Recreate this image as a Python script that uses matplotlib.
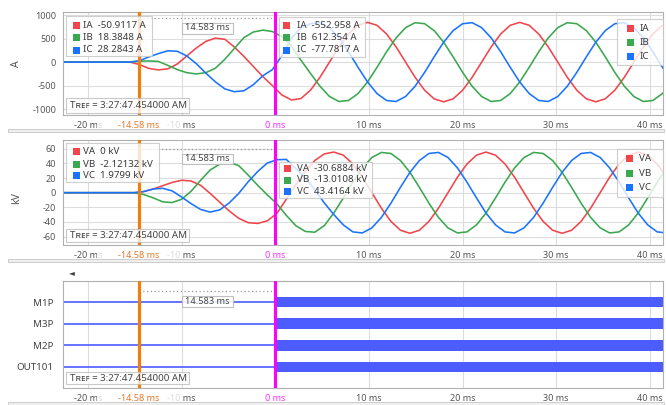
import numpy as np
import matplotlib
matplotlib.use('Agg')
import matplotlib.pyplot as plt
from matplotlib.patches import Rectangle
from matplotlib.transforms import blended_transform_factory as btf

plt.rcParams['font.family'] = ['Noto Sans', 'DejaVu Sans']

# ------------------------------------------------------------------ data
SAMPLE_MS = 16.25 / 16      # sample interval of the record (ms)
I_T0 = -23.666              # time of first current sample (ms)
V_T0 = -23.203              # time of first voltage sample (ms)

IA = [0, 0, 0, 0, 0, 0, 0, 0, 0,
      -50, -135, -165, -145, -40, 130, 300, 440, 510, 485, 320, 120, -95, -310, -500, -700, -805, -775,
      -598, -323, 0, 323, 598, 781,
      845, 781, 598, 323, 0, -323, -598, -781, -845, -781, -598, -323, 0, 323, 598, 781,
      845, 781, 598, 323, 0, -323, -598, -781, -845, -781, -598, -323, 0, 323, 598, 781,
      845]
IB = [0, 0, 0, 0, 0, 0, 0, 0, 0,
      18, 25, 15, -70, -160, -225, -252, -225, -130, 60, 290, 520, 640, 680, 650, 540, 340, 40,
      -240, -514, -732, -838, -816, -670,
      -423, -110, 219, 514, 732, 838, 816, 670, 423, 110, -219, -514, -732, -838, -816, -670,
      -423, -110, 219, 514, 732, 838, 816, 670, 423, 110, -219, -514, -732, -838, -816, -670,
      -423]
IC = [0, 0, 0, 0, 0, 0, 0, 0, 0,
      28, 108, 180, 240, 230, 130, -35, -235, -420, -570, -630, -610, -480, -290, -160, 140, 510, 730,
      816, 838, 732, 514, 219, -110,
      -423, -670, -816, -838, -732, -514, -219, 110, 423, 670, 816, 838, 732, 514, 219, -110,
      -423, -670, -816, -838, -732, -514, -219, 110, 423, 670, 816, 838, 732, 514, 219, -110,
      -423]

VA = [0, 0, 0, 0, 0, 0, 0, 0, 0,
      1.5, 5, 9.5, 14, 17, 16, 10, -1, -13, -25, -35, -41, -42, -38.5, -28.5, -9, 11, 29, 44, 53,
      55.5, 51.3, 39.2, 21.2, 0, -21.2, -39.2, -51.3, -55.5, -51.3, -39.2, -21.2, 0, 21.2, 39.2, 51.3,
      55.5, 51.3, 39.2, 21.2, 0, -21.2, -39.2, -51.3, -55.5, -51.3, -39.2, -21.2, 0, 21.2, 39.2, 51.3,
      55.5, 51.3, 39.2, 21.2]
VB = [0, 0, 0, 0, 0, 0, 0, 0, 0,
      -2.5, -7, -12.5, -13.5, -9, 2, 17, 31, 39, 41.5, 37, 24, 10, -3, -15, -31, -45, -53, -54, -45,
      -27.8, -7.2, 14.4, 33.8, 48.1, 55.0, 53.6, 44.0, 27.8, 7.2, -14.4, -33.8, -48.1, -55.0, -53.6, -44.0,
      -27.8, -7.2, 14.4, 33.8, 48.1, 55.0, 53.6, 44.0, 27.8, 7.2, -14.4, -33.8, -48.1, -55.0, -53.6, -44.0,
      -27.8, -7.2, 14.4, 33.8]
VC = [0, 0, 0, 0, 0, 0, 0, 0, 0,
      1.5, 5, 6, 2.5, -6, -15, -23, -26.5, -23.5, -14, -1, 15, 29, 40.5, 45, 45.5, 33, 20, 4, -14,
      -30, -44.0, -53.6, -55.0, -48.1, -33.8, -14.4, 7.2, 27.8, 44.0, 53.6, 55.0, 48.1, 33.8, 14.4, -7.2,
      -27.8, -44.0, -53.6, -55.0, -48.1, -33.8, -14.4, 7.2, 27.8, 44.0, 53.6, 55.0, 48.1, 33.8, 14.4, -7.2,
      -27.8, -44.0, -53.6, -55.0]

digital_names = ['M1P', 'M3P', 'M2P', 'OUT101']
digital_on_ms = [0.0, 0.0, 0.0, 0.0]

cursor_ms = [-14.583, 0.0]
cursor_labels = ['-14.58 ms', '0 ms']
delta_label = '14.583 ms'
tref_label = 'T\u0280\u1d07\ua730 = 3:27:47.454000 AM'

x_ticks = [-20, -10, 0, 10, 20, 30, 40]
x_tick_labels = ['-20 ms', '-10 ms', '0 ms', '10 ms', '20 ms', '30 ms', '40 ms']
i_ticks = [-1000, -500, 0, 500, 1000]
v_ticks = [-60, -40, -20, 0, 20, 40, 60]

i_names = ['IA', 'IB', 'IC']
i_at_c1 = [-50.9117, 18.3848, 28.2843]
i_at_c2 = [-552.958, 612.354, -77.7817]
v_names = ['VA', 'VB', 'VC']
v_at_c1 = [0, -2.12132, 1.9799]
v_at_c2 = [-30.6884, -13.0108, 43.4164]

# ------------------------------------------------------------------ style
W, H = 666, 405
RED, GREEN, BLUE = '#f0464b', '#3aa84e', '#1a73ff'
ORANGE, MAGENTA = '#f07d10', '#ff00ff'
DIG = '#4c5cff'
TXT = '#555555'
XPAD = 4.2

fig = plt.figure(figsize=(W / 100, H / 100), dpi=100)


def fx(x):
    return x / W


def fy(y):
    return 1 - y / H


def frect(x0, y0, x1, y1, **kw):
    r = Rectangle((fx(x0), fy(y1)), (x1 - x0) / W, (y1 - y0) / H,
                  transform=fig.transFigure, **kw)
    fig.add_artist(r)


def ftext(x, y, s, **kw):
    fig.text(fx(x), fy(y), s, **kw)


XL = (-22.67, 41.4)
panels_px = [(12, 115), (140, 245), (281, 388)]
axs = []
for top, bot in panels_px:
    ax = fig.add_axes([fx(63), fy(bot), 600 / W, (bot - top) / H])
    ax.set_xlim(XL)
    ax.set_axisbelow(True)
    for s in ax.spines.values():
        s.set_color('#b0b0b0')
        s.set_linewidth(0.8)
    ax.tick_params(length=0, labelsize=6.5, labelcolor=TXT)
    ax.tick_params(axis='x', pad=XPAD)
    ax.set_xticks(x_ticks, x_tick_labels)
    axs.append(ax)
ax1, ax2, ax3 = axs

t_i = I_T0 + SAMPLE_MS * np.arange(len(IA))
t_v = V_T0 + SAMPLE_MS * np.arange(len(VA))

# currents
ax1.grid(True, color='#dcdcdc', lw=0.8)
for y, c in zip([IA, IB, IC], [RED, GREEN, BLUE]):
    ax1.plot(t_i, y, color=c, lw=1.15, zorder=2)
ax1.set_ylim(-1125, 1065)
ax1.set_yticks(i_ticks, [str(v) for v in i_ticks])
ax1.tick_params(axis='y', pad=5)
ax1.set_ylabel('A', fontsize=7.5, color=TXT)
ax1.yaxis.set_label_coords(-0.068, 0.5)

# voltages
ax2.grid(True, color='#dcdcdc', lw=0.8)
for y, c in zip([VA, VB, VC], [RED, GREEN, BLUE]):
    ax2.plot(t_v, y, color=c, lw=1.15, zorder=2)
ax2.set_ylim(-71.5, 72)
ax2.set_yticks(v_ticks, [str(v) for v in v_ticks])
ax2.tick_params(axis='y', pad=5)
ax2.set_ylabel('kV', fontsize=7.5, color=TXT)
ax2.yaxis.set_label_coords(-0.068, 0.45)

# digital channels
ax3.grid(True, axis='x', color='#dcdcdc', lw=0.8)
ypos = np.arange(len(digital_names))[::-1]
for yy, ton in zip(ypos, digital_on_ms):
    ax3.hlines(yy, t_i[0], ton, color=DIG, lw=1.2, zorder=2)
    ax3.barh(yy, t_i[-1] - ton, left=ton, height=0.5, color=DIG, zorder=2)
ax3.set_ylim(-0.97, 3.97)
ax3.set_yticks(ypos, digital_names)
ax3.tick_params(axis='y', pad=7, labelsize=7, labelcolor='#444444')

# cursors, labels, delta line
dot_y = [0.939, 0.914, 0.907]
for ax, (top, bot), dy in zip(axs, panels_px, dot_y):
    hpx = bot - top
    tr = btf(ax.transData, ax.transAxes)
    ax.axvline(cursor_ms[0], color=ORANGE, lw=2.3, zorder=4)
    ax.axvline(cursor_ms[1], color=MAGENTA, lw=2.2, zorder=4)
    ax.plot(cursor_ms, [dy, dy], transform=tr, color='#9a9a9a', lw=0.9,
            ls=(0, (1, 2)), zorder=3)
    # white label backgrounds below the axis
    ax.add_patch(Rectangle((cursor_ms[0] - 4.45, -16.5 / hpx), 8.9, 13 / hpx, transform=tr,
                           fc='white', ec='none', alpha=0.8, clip_on=False, zorder=5))
    ax.add_patch(Rectangle((cursor_ms[1] - 2.2, -16.5 / hpx), 4.4, 13 / hpx, transform=tr,
                           fc='white', ec='none', alpha=1.0, clip_on=False, zorder=5))
    for cx, lab, col in zip(cursor_ms, cursor_labels, ['#e8782a', '#ff30ff']):
        ax.annotate(lab, xy=(cx, 0), xycoords=tr, xytext=(0, -XPAD), textcoords='offset points',
                    ha='center', va='top', fontsize=6.5, color=col, zorder=6,
                    annotation_clip=False)

# delta boxes
for cy in [28, 158.8, 301.5]:
    frect(181.7, cy - 5.3, 232.5, cy + 5.6, fc='white', ec='#b8b8b8', lw=0.8, alpha=0.9, zorder=10)
    ftext(207.1, cy, delta_label, ha='center', va='center', fontsize=6.6, color='#444444', zorder=11)

# TREF boxes
for y0, y1 in [(98.3, 113.3), (229, 241.7), (372.3, 384.3)]:
    frect(66, y0, 188.5, y1, fc='white', ec='#b8b8b8', lw=0.8, alpha=0.75, zorder=10)
    ftext(70, (y0 + y1) / 2, tref_label, ha='left', va='center', fontsize=7, color='#444444', zorder=11)


def readout(x0, y0, x1, y1, rows, sqx, tx, labels, colors, fs=7):
    frect(x0, y0, x1, y1, fc='white', ec='#c4c4c4', lw=0.8, alpha=0.8, zorder=10)
    for ry, lab, col in zip(rows, labels, colors):
        frect(sqx - 3.5, ry - 3.5, sqx + 3.5, ry + 3.5, fc=col, ec='none', zorder=11)
        ftext(tx, ry, lab, ha='left', va='center', fontsize=fs, color='#3a3a3a', zorder=11)


cols = [RED, GREEN, BLUE]
readout(66, 16, 152, 56, [25, 37.3, 50], 76, 83.3,
        [f'{n}  {v:g} A' for n, v in zip(i_names, i_at_c1)], cols)
readout(279.3, 17.3, 365, 56.5, [25, 37.3, 50], 286.7, 296.7,
        [f'{n}  {v:g} A' for n, v in zip(i_names, i_at_c2)], cols)
readout(617.3, 19.3, 663, 65, [28.3, 42.7, 56.7], 630, 640,
        i_names, cols)
readout(66, 143.3, 159, 181.7, [151.7, 164, 175.7], 76, 83.3,
        [f'{n}  {v:g} kV' for n, v in zip(v_names, v_at_c1)], cols)
readout(279.3, 161.7, 371.7, 198.3, [168.3, 180, 191.7], 287.3, 296.7,
        [f'{n}  {v:g} kV' for n, v in zip(v_names, v_at_c2)], cols)
readout(616.7, 149, 663, 196.7, [158.3, 173.3, 187.7], 629.3, 639,
        v_names, cols)

# separators
for y0 in [129, 259, 402]:
    frect(8, y0, 664, y0 + 3, fc='#efefef', ec='#c6c6c6', lw=0.6, zorder=10)

ftext(72, 273, '\u25c4', ha='center', va='center', fontsize=5.5, color='#444444',
      family='DejaVu Sans')

fig.savefig('out.png', dpi=100)
